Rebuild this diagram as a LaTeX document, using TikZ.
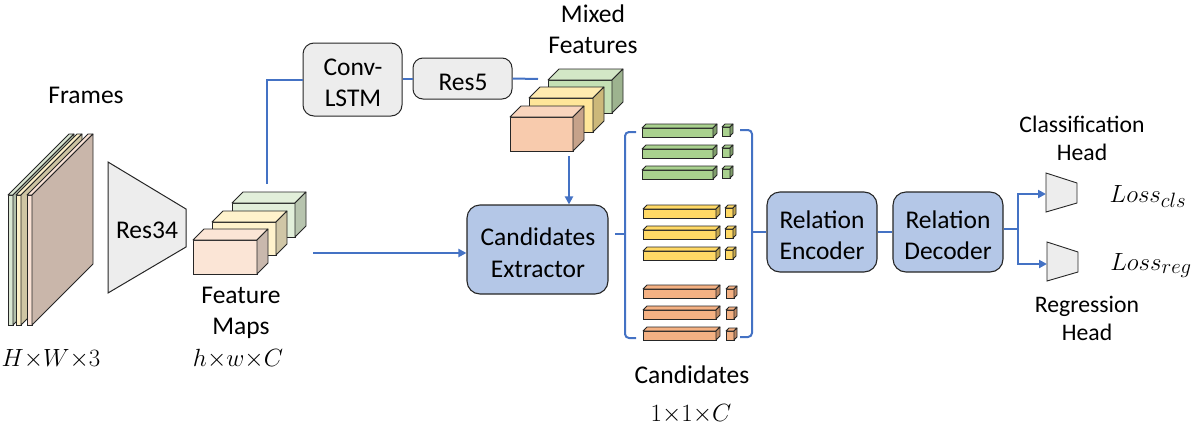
\documentclass[tikz,border=0pt]{standalone}
\usepackage{fontspec}
\setmainfont{Carlito}
\usetikzlibrary{arrows.meta}
\definecolor{conn}{HTML}{4472C4}
\definecolor{edge}{HTML}{262626}
\definecolor{grayfill}{HTML}{EDEDED}
\definecolor{bluefill}{HTML}{B4C7E7}
% frames
\definecolor{frG}{HTML}{DAE7D2}\definecolor{frGs}{HTML}{B3C0AB}
\definecolor{frY}{HTML}{FDF0C8}\definecolor{frYs}{HTML}{CFC5A3}
\definecolor{frP}{HTML}{FBE3D6}\definecolor{frPs}{HTML}{C9B6AA}
% feature maps
\definecolor{fmG}{HTML}{E2EFDA}\definecolor{fmGs}{HTML}{B7C4AE}
\definecolor{fmY}{HTML}{FFF2CC}\definecolor{fmYs}{HTML}{D0C6A6}
\definecolor{fmP}{HTML}{FBE5D6}\definecolor{fmPs}{HTML}{C9B8AD}
% mixed features
\definecolor{mxG}{HTML}{C5E0B4}\definecolor{mxGt}{HTML}{D3E7C6}\definecolor{mxGs}{HTML}{9DB38F}
\definecolor{mxY}{HTML}{FFE699}\definecolor{mxYt}{HTML}{FFEBB0}\definecolor{mxYs}{HTML}{CCB87A}
\definecolor{mxP}{HTML}{F8CBAD}\definecolor{mxPt}{HTML}{F9D5BD}\definecolor{mxPs}{HTML}{C6A28A}
% candidate bars
\definecolor{bG}{HTML}{A9D18E}\definecolor{bGs}{HTML}{7F9D6B}
\definecolor{bY}{HTML}{FFD966}\definecolor{bYs}{HTML}{C6A94F}
\definecolor{bO}{HTML}{F4B183}\definecolor{bOs}{HTML}{C08A66}

% #1 name, #2 x, #3 y (top-left of front face), #4 w, #5 h, #6 depth, #7 front, #8 top, #9 side
\newcommand\mycube[9]{%
  \node[draw=edge, fill=#7, line width=0.8pt, minimum width=#4pt, minimum height=#5pt,
        inner sep=0pt, outer sep=0pt, anchor=north west] (#1) at (#2,#3) {};
  \filldraw[draw=edge, fill=#8, line width=0.8pt, line join=round]
    (#1.north west) -- ++(#6,-#6) -- ++(#4,0) -- (#1.north east) -- cycle;
  \filldraw[draw=edge, fill=#9, line width=0.8pt, line join=round]
    (#1.north east) -- ++(#6,-#6) -- ++(0,#5) -- (#1.south east) -- cycle;
}

\begin{document}
\begin{tikzpicture}[x=1pt,y=-1pt,
  every node/.style={font=\fontsize{25.5}{31}\selectfont, text=black},
  lbl/.style={anchor=base, inner sep=0pt},
  small/.style={font=\fontsize{23.7}{29}\selectfont},
  mathbig/.style={font=\fontsize{27.5}{31}\selectfont},
  graybox/.style={draw=edge, fill=grayfill, line width=1pt, rounded corners=11pt, inner sep=0pt},
  bluebox/.style={draw=edge, fill=bluefill, line width=1.1pt, rounded corners=13pt, inner sep=0pt},
  connector/.style={draw=conn, line width=2pt},
  arrowc/.style={connector, -{Triangle[length=8pt,width=8pt]}},
  headshape/.style={draw=edge, fill=grayfill, line width=0.9pt, line join=miter},
]
\useasboundingbox (0,0) rectangle (1197,426);

% ---------- Frames ----------
\mycube{frg}{8}{195}{5}{130}{61}{frG}{frG}{frGs}
\mycube{fry}{16}{195}{5}{130}{61}{frY}{frY}{frYs}
\mycube{frp}{27}{195}{5}{130}{61}{frP}{frP}{frPs}
\node[lbl] (framesL) at (86,103) {Frames};
\node[lbl] (framesD) at (51,366) {$H{\times}W{\times}3$};

% ---------- Res34 ----------
\filldraw[headshape, line width=1pt] (108,162) -- (186,209) -- (186,247) -- (108,293) -- cycle;
\node[lbl] (res34L) at (147,238) {Res34};

% ---------- Feature maps ----------
\mycube{fmg}{232}{203}{63}{34}{11}{fmG}{fmG}{fmGs}
\mycube{fmy}{212}{222}{64}{33}{11}{fmY}{fmY}{fmYs}
\mycube{fmp}{193}{240}{64}{34}{11}{fmP}{fmP}{fmPs}
\node[lbl] (fmL1) at (241,303) {Feature};
\node[lbl] (fmL2) at (241,334) {Maps};
\node[lbl] (fmD) at (238,366) {$h{\times}w{\times}C$};

% ---------- Conv-LSTM / Res5 ----------
\node[graybox, minimum width=99pt, minimum height=73pt] (conv) at (352.5,79.5) {};
\node[lbl] (convT1) at (353,75) {Conv-};
\node[lbl] (convT2) at (353,106) {LSTM};
\node[graybox, minimum width=99pt, minimum height=41pt, rounded corners=10pt] (res5) at (462.5,78.5) {};
\node[lbl] (res5T) at (463,90) {Res5};

% ---------- Mixed features ----------
\mycube{mxg}{548}{80}{64}{33}{11}{mxG}{mxGt}{mxGs}
\mycube{mxy}{529}{98}{64}{34}{11}{mxY}{mxYt}{mxYs}
\mycube{mxp}{510}{117}{63}{34}{11}{mxP}{mxPt}{mxPs}
\node[lbl] (mxL1) at (593,22) {Mixed};
\node[lbl] (mxL2) at (593,53) {Features};

% ---------- Candidates extractor ----------
\node[bluebox, minimum width=141pt, minimum height=89pt] (ext) at (537.5,249.5) {};
\node[lbl] (extT1) at (538,245) {Candidates};
\node[lbl] (extT2) at (538,277) {Extractor};

% ---------- Candidates ----------
\foreach \i/\y in {1/128,2/149,3/170}{
  \mycube{gb\i}{642}{\y}{71}{9}{4}{bG}{bG}{bGs}
  \mycube{gc\i}{722}{\y-1}{8}{9}{3}{bG}{bG}{bGs}
}
\foreach \i/\y in {1/209,2/230,3/251}{
  \mycube{yb\i}{643}{\y}{73}{9}{4}{bY}{bY}{bYs}
  \mycube{yc\i}{725}{\y-1}{8}{9}{3}{bY}{bY}{bYs}
}
\foreach \i/\y in {1/289,2/310,3/331}{
  \mycube{ob\i}{643}{\y}{73}{9}{4}{bO}{bO}{bOs}
  \mycube{oc\i}{726}{\y}{8}{9}{3}{bO}{bO}{bOs}
}
\draw[connector, rounded corners=4pt] (636,132) -- (625,132) -- (625,338) -- (636,338);
\draw[connector] (625,234) -- (615,234);
\draw[connector, rounded corners=4pt] (740,130) -- (752,130) -- (752,337) -- (740,337);
\coordinate (brR) at (752,232);
\node[lbl] (candL) at (692,383) {Candidates};
\node[lbl] (candD) at (691,421) {$1{\times}1{\times}C$};

% ---------- Relation encoder / decoder ----------
\node[bluebox, minimum width=110pt, minimum height=80pt] (enc) at (822,232) {};
\node[lbl] (encT1) at (822,228) {Relation};
\node[lbl] (encT2) at (822,259) {Encoder};
\node[bluebox, minimum width=110pt, minimum height=80pt] (dec) at (948,232) {};
\node[lbl] (decT1) at (948,228) {Relation};
\node[lbl] (decT2) at (948,259) {Decoder};

% ---------- Heads ----------
\filldraw[headshape] (1046,173) -- (1077,183) -- (1077,203) -- (1046,212) -- cycle;
\filldraw[headshape] (1047,242) -- (1078,252) -- (1078,272) -- (1047,281) -- cycle;
\coordinate (clsIn) at (1046,194);
\coordinate (regIn) at (1047,264);
\node[lbl, small] (clsL1) at (1082,132) {Classification};
\node[lbl, small] (clsL2) at (1082,160) {Head};
\node[lbl, small] (regL1) at (1087,312) {Regression};
\node[lbl, small] (regL2) at (1087,340) {Head};
\node[lbl, mathbig] (lossC) at (1148,202) {$Loss_{cls}$};
\node[lbl, mathbig] (lossR) at (1151,270) {$Loss_{reg}$};

% ---------- Connectors ----------
\coordinate (fmTop) at (267,184);
\coordinate (fmOut) at (313,253);
\coordinate (mixIn) at (538,79);
\coordinate (mixOut) at (569,156);
\draw[connector] (fmTop) |- (conv.west);
\draw[connector] (conv.east |- res5.west) -- (res5.west);
\draw[connector] (res5.east) -- (mixIn);
\draw[arrowc] (mixOut) -- (mixOut |- ext.north);
\draw[arrowc] (fmOut) -- (fmOut -| ext.west);
\draw[connector] (brR) -- (enc.west);
\draw[connector] (enc.east) -- (dec.west);
\draw[connector] (dec.east |- 0,229) -- (1018,229) coordinate (split);
\draw[arrowc] (split) |- (clsIn);
\draw[arrowc] (split) |- (regIn);
\end{tikzpicture}
\end{document}
